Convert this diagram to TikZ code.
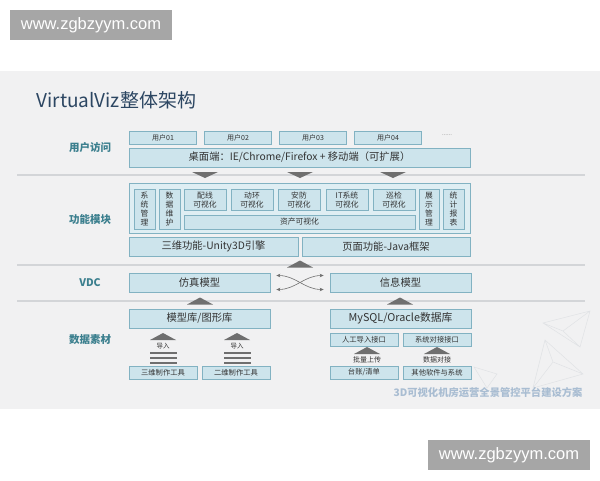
\documentclass[tikz,border=0pt]{standalone}
\usepackage{fontspec}
\setmainfont{Noto Sans CJK SC}
\newfontfamily\wmfont{Liberation Sans}
\usepackage{tikz}
\usetikzlibrary{arrows.meta}
\definecolor{panel}{HTML}{F1F1F2}
\definecolor{boxfill}{HTML}{CDE4EC}
\definecolor{boxline}{HTML}{82B2C2}
\definecolor{outerfill}{HTML}{DFEEF3}
\definecolor{tricol}{HTML}{6F6F6F}
\definecolor{seccol}{HTML}{3B7F8E}
\definecolor{titlecol}{HTML}{2C4662}
\definecolor{txtcol}{HTML}{333333}
\definecolor{sepcol}{HTML}{D3D5D8}
\definecolor{footcol}{HTML}{A9BDD2}
\definecolor{wmgray}{HTML}{A6A6A6}
\definecolor{decocol}{HTML}{E0E2E5}

\begin{document}
\begin{tikzpicture}[x=1pt, y=-1pt,
                box/.style={rectangle, draw=boxline, fill=boxfill, line width=0.7pt,
                inner sep=0pt, align=center, text=txtcol},
                tiny/.style={box, font=\fontsize{7}{8}\selectfont},
                small/.style={box, font=\fontsize{7.8}{8.8}\selectfont},
                mid/.style={box, font=\fontsize{10.3}{12}\selectfont},
                section/.style={font=\fontsize{10.5}{12}\selectfont\bfseries, text=seccol},
                note/.style={font=\fontsize{7}{8}\selectfont, text=txtcol},
                bar/.style={rectangle, fill=tricol, minimum width=27pt, minimum height=2.6pt, inner sep=0pt},
                tri/.style={fill=tricol},
                sep/.style={draw=sepcol, line width=1.2pt},
                cross/.style={{Stealth[length=4pt,width=3.5pt]}-{Stealth[length=4pt,width=3.5pt]},
                draw=tricol, line width=0.6pt},
                wm/.style={fill=wmgray, text=white, minimum width=162pt, minimum height=30pt,
                inner sep=0pt, font=\wmfont\fontsize{16.5}{18}\selectfont}
            ]
        \useasboundingbox (0,0) rectangle (600,480);
        \fill[white] (0,0) rectangle (600,480);
        \fill[panel] (0,71) rectangle (600,409);

        \node[wm] (wmtop) at (91,25)  {www.zgbzyym.com};
        \node[wm] (wmbot) at (509,455) {www.zgbzyym.com};

        \node[anchor=west, font=\fontsize{19}{22}\selectfont, text=titlecol] (title) at (33,100) {VirtualViz整体架构};

        \draw[sep] (17,175) -- (585,175);
        \draw[sep] (17,265) -- (585,265);
        \draw[sep] (17,301) -- (585,301);

        \draw[decocol, line width=0.5pt] (543,323) -- (590,311) -- (580,347) -- cycle
              (543,323) -- (563,331) -- (590,311) (563,331) -- (580,347);
        \draw[decocol, line width=0.5pt] (545,340) -- (533,388) -- (583,374) -- cycle
              (545,340) -- (553,362) -- (533,388) (553,362) -- (583,374);
        \draw[decocol, line width=0.5pt] (474,367) -- (497,374) -- (487,388) -- cycle;

        \node[section] (sec1) at (90,148) {用户访问};
        \node[section] (sec2) at (90,220) {功能模块};
        \node[section] (sec3) at (90,283) {VDC};
        \node[section] (sec4) at (90,340) {数据素材};

        \node[tiny, minimum width=67pt, minimum height=13pt] (user1) at (163,137.5) {用户01};
        \node[tiny, minimum width=67pt, minimum height=13pt] (user2) at (238,137.5) {用户02};
        \node[tiny, minimum width=67pt, minimum height=13pt] (user3) at (313,137.5) {用户03};
        \node[tiny, minimum width=67pt, minimum height=13pt] (user4) at (388,137.5) {用户04};
        \node[font=\fontsize{6}{7}\selectfont, text=gray] (more) at (447,135.5) {......};
        \node[mid, minimum width=341pt, minimum height=19pt] (desk) at (299.5,157.5) {桌面端：IE/Chrome/Firefox + 移动端（可扩展）};

        \foreach \tx/\ty in {205/175, 300/175, 393/175}
            \fill[tri] (\tx-13,\ty-3) -- (\tx+13,\ty-3) -- (\tx,\ty+3) -- cycle;

        \node[box, fill=outerfill, minimum width=341pt, minimum height=50pt] (func) at (299.5,208) {};
        \node[small, minimum width=21pt, minimum height=40pt] (sys)  at (144.5,209) {系\\统\\管\\理};
        \node[small, minimum width=21pt, minimum height=40pt] (data) at (169.5,209) {数\\据\\维\\护};
        \node[small, minimum width=42pt, minimum height=21pt] (wire) at (205,200) {配线\\可视化};
        \node[small, minimum width=42pt, minimum height=21pt] (env)  at (252,200) {动环\\可视化};
        \node[small, minimum width=42pt, minimum height=21pt] (sec)  at (299,200) {安防\\可视化};
        \node[small, minimum width=42pt, minimum height=21pt] (it)   at (347,200) {IT系统\\可视化};
        \node[small, minimum width=42pt, minimum height=21pt] (tour) at (394,200) {巡检\\可视化};
        \node[small, minimum width=231pt, minimum height=14pt] (asset) at (299.5,222) {资产可视化};
        \node[small, minimum width=20pt, minimum height=40pt] (show) at (429,209) {展\\示\\管\\理};
        \node[small, minimum width=21pt, minimum height=40pt] (stat) at (453.5,209) {统\\计\\报\\表};

        \node[mid, minimum width=169pt, minimum height=19pt] (unity) at (213.5,246.5) {三维功能-Unity3D引擎};
        \node[mid, minimum width=168pt, minimum height=19pt] (java)  at (386,246.5)   {页面功能-Java框架};

        \foreach \tx/\ty in {300/264, 200/301, 400/301}
            \fill[tri] (\tx-13,\ty+3.5) -- (\tx+13,\ty+3.5) -- (\tx,\ty-3.5) -- cycle;

        \node[mid, minimum width=141pt, minimum height=19pt] (sim)  at (199.5,282.5) {仿真模型};
        \node[mid, minimum width=141pt, minimum height=19pt] (info) at (400.5,282.5) {信息模型};
        \draw[cross] ([xshift=6pt,yshift=7pt]sim.east) to[out=0,in=180] ([xshift=-6pt,yshift=-7pt]info.west);
        \draw[cross] ([xshift=6pt,yshift=-7pt]sim.east) to[out=0,in=180] ([xshift=-6pt,yshift=7pt]info.west);

        \node[mid, minimum width=141pt, minimum height=19pt] (lib) at (199.5,318.5) {模型库/图形库};
        \node[mid, font=\fontsize{10.8}{12}\selectfont, minimum width=141pt, minimum height=19pt] (db) at (400.5,318.5) {MySQL/Oracle数据库};

        \foreach \tx/\ty in {163/336.5, 237/336.5, 367/350.5, 437/350.5}
            \fill[tri] (\tx-13,\ty+3.5) -- (\tx+13,\ty+3.5) -- (\tx,\ty-3.5) -- cycle;

        \node[note, font=\fontsize{6.5}{8}\selectfont] (imp1) at (163,346.5) {导入};
        \node[note, font=\fontsize{6.5}{8}\selectfont] (imp2) at (237,346.5) {导入};
        \node[bar] (bar1a) at (163.5,353) {};
        \node[bar] (bar1b) at (163.5,358) {};
        \node[bar] (bar1c) at (163.5,363) {};
        \node[bar] (bar2a) at (237,353) {};
        \node[bar] (bar2b) at (237,358) {};
        \node[bar] (bar2c) at (237,363) {};
        \node[tiny, font=\fontsize{7.3}{8}\selectfont, minimum width=68pt, minimum height=13pt] (tool3d) at (163,372.5) {三维制作工具};
        \node[tiny, font=\fontsize{7.3}{8}\selectfont, minimum width=68pt, minimum height=13pt] (tool2d) at (236,372.5) {二维制作工具};

        \node[tiny, font=\fontsize{7.3}{8}\selectfont, minimum width=68pt, minimum height=13pt] (manual) at (364,339.5) {人工导入接口};
        \node[tiny, font=\fontsize{7.3}{8}\selectfont, minimum width=68pt, minimum height=13pt] (sysif)  at (437,339.5) {系统对接接口};
        \node[note] (upload) at (367,360) {批量上传};
        \node[note] (link)   at (437,360) {数据对接};
        \node[tiny, font=\fontsize{7.3}{8}\selectfont, minimum width=68pt, minimum height=13pt] (ledger) at (364,372.5) {台账/清单};
        \node[tiny, font=\fontsize{7.3}{8}\selectfont, minimum width=68pt, minimum height=13pt] (other)  at (437,372.5) {其他软件与系统};

        \node[anchor=east, font=\fontsize{10.3}{12}\selectfont\bfseries, text=footcol] (foot) at (586,393) {3D可视化机房运营全景管控平台建设方案};
            \end{tikzpicture}
\end{document}
